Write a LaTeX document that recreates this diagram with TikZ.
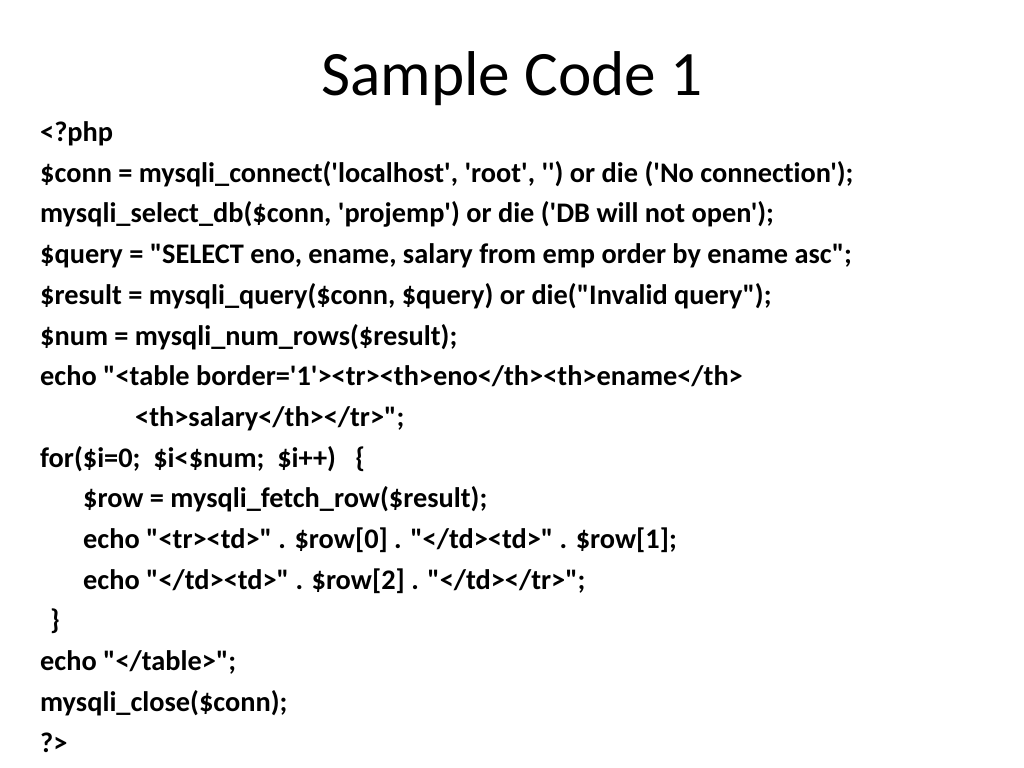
\documentclass[tikz,border=0pt]{standalone}
\usepackage{fontspec}
\newfontfamily\slidefont{Carlito}[Ligatures=NoCommon]
\begin{document}
\begin{tikzpicture}[x=1bp,y=-1bp,
  codeline/.style={anchor=base west,inner sep=0pt,font={\slidefont\bfseries\fontsize{28.45}{40}\selectfont}},
  slidetitle/.style={anchor=base,inner sep=0pt,font={\slidefont\fontsize{63.5}{70}\selectfont}}]
\useasboundingbox (0,0) rectangle (1024,768);
%Title
\node[slidetitle] (T) at (512,96) {Sample Code 1};

%Code lines
\node[codeline] (L1) at (40,141.5) {<?php};
\node[codeline] (L2) at (40,182.2) {\$conn = mysqli\_connect('localhost', 'root', '') or die ('No connection');};
\node[codeline] (L3) at (40,222.9) {mysqli\_select\_db(\$conn, 'projemp') or die ('DB will not open');};
\node[codeline] (L4) at (40,263.6) {\$query = "SELECT eno, ename, salary from emp order by ename asc";};
\node[codeline] (L5) at (40,304.3) {\$result = mysqli\_query(\$conn, \$query) or die("Invalid query");};
\node[codeline] (L6) at (40,345) {\$num = mysqli\_num\_rows(\$result);};
\node[codeline] (L7) at (40,385.7) {echo "<table border='1'><tr><th>eno</th><th>ename</th>};
\node[codeline] (L8) at (135,426.4) {<th>salary</th></tr>";};
\node[codeline] (L9) at (40,467.1) {for(\$i=0;\ \ \$i<\$num;\ \ \$i++)\ \ \ \{};

%Loop body
\node[codeline] (L10) at (83,507.8) {\$row = mysqli\_fetch\_row(\$result);};
\node[codeline] (L11) at (83,548.5) {echo "<tr><td>" . \$row[0] . "</td><td>" . \$row[1];};
\node[codeline] (L12) at (83,589.2) {echo "</td><td>" . \$row[2] . "</td></tr>";};
\node[codeline] (L13) at (50,629.9) {\}};

\node[codeline] (L14) at (40,670.6) {echo "</table>";};
\node[codeline] (L15) at (40,711.3) {mysqli\_close(\$conn);};
\node[codeline] (L16) at (40,752) {?>};
\end{tikzpicture}
\end{document}
